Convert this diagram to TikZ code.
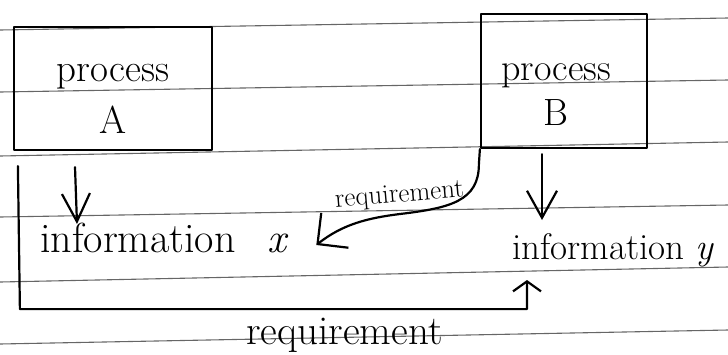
\documentclass[tikz,border=0pt]{standalone}
\usepackage{fontspec}
\usetikzlibrary{arrows.meta}
\begin{document}
\begin{tikzpicture}[x=1pt,y=-1pt,
  ink/.style={line width=2.2pt, line cap=round, line join=round},
  paperrule/.style={line width=1.1pt, black!60},
  procbox/.style={draw, ink, rectangle, inner sep=0pt},
  arr/.style={ink, -{Straight Barb[length=28pt,width=28pt]}},
  label/.style={inner sep=0pt, align=center},
]
\useasboundingbox (0,0) rectangle (728,354);

% ruled paper
\draw[paperrule] (0,30) -- (728,18);
\draw[paperrule] (0,92) -- (728,80);
\draw[paperrule] (0,156) -- (728,142);
\draw[paperrule] (0,217) -- (728,205);
\draw[paperrule] (0,282) -- (728,267);
\draw[paperrule] (0,344) -- (728,330);

% processes
\node[procbox, minimum width=198pt, minimum height=123pt] (procA) at (113,88.5) {};
\node[label, font=\fontsize{39}{52}\selectfont] (procAtext) at (113,99) {process\\A};
\node[procbox, minimum width=166pt, minimum height=134pt] (procB) at (564,81) {};
\node[label, font=\fontsize{38}{45}\selectfont] (procBtext) at (556,94.5) {process\\B};

% information
\node[label, anchor=base west, font=\fontsize{42}{48}\selectfont] (infox) at (40,252) {information\hspace{0.75em}\itshape x};
\node[label, anchor=base west, font=\fontsize{37}{44}\selectfont] (infoy) at (512,259) {information \itshape y};

% outputs
\draw[arr] ([xshift=-38pt,yshift=-16pt]procA.south) -- ([xshift=37pt,yshift=28pt]infox.base west);
\draw[ink, -{Straight Barb[length=27pt,width=30pt]}] ([xshift=-22pt,yshift=-5pt]procB.south) -- ([xshift=30pt,yshift=39pt]infoy.base west);

% requirement of B on x
\draw[ink, -{Straight Barb[length=22pt,width=44pt]}] (procB.south west) -- ++(-1,15)
  .. controls +(0,37) and (450,208) .. (400,214)
  node[label, anchor=base, yshift=12pt, rotate=5, font=\fontsize{27}{30}\selectfont] {requirement}
  .. controls (368,218) and (343,224) .. ([xshift=30pt,yshift=7pt]infox.base east);

% requirement of A on y
\draw[ink, -{Straight Barb[length=10pt,width=28pt]}] ([xshift=5pt,yshift=-15pt]procA.south west) -- ++(2,143)
  -| node[label, pos=0.32, anchor=base, yshift=-35pt, font=\fontsize{41}{48}\selectfont] {requirement}
  ([xshift=15pt,yshift=-21pt]infoy.base west);
\end{tikzpicture}
\end{document}
